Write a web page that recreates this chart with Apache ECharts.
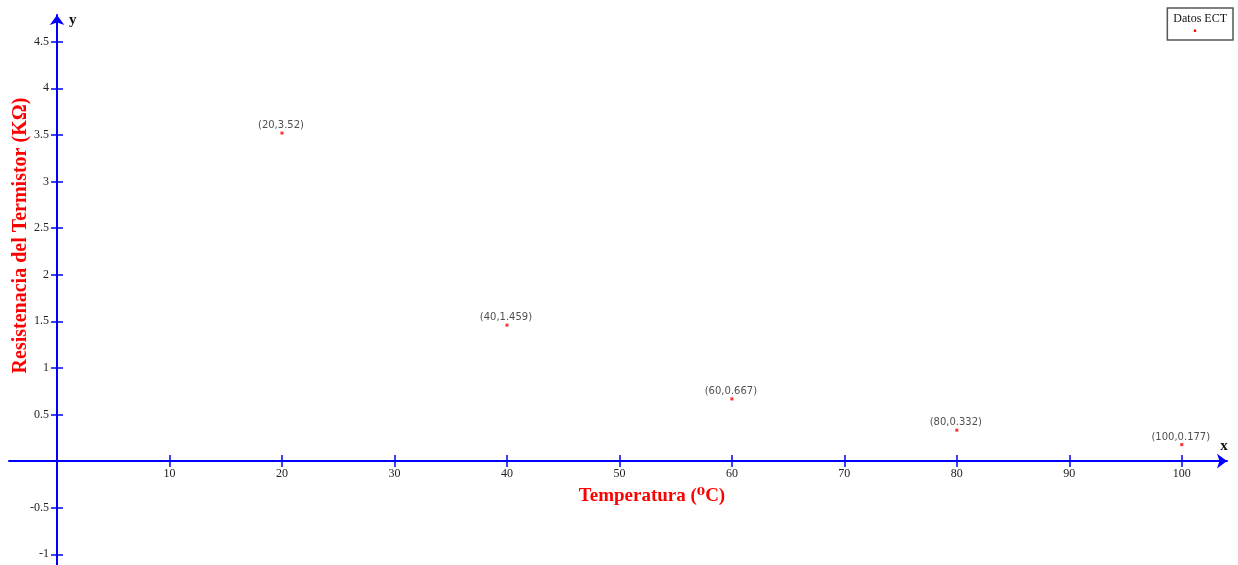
<!DOCTYPE html>
<html>
<head>
<meta charset="utf-8">
<script src="https://cdn.jsdelivr.net/npm/echarts@6/dist/echarts.min.js"></script>
<style>
html,body{margin:0;padding:0;background:#fff;}
#chart{width:1238px;height:565px;}
</style>
</head>
<body>
<div id="chart"></div>
<script>
const seriesName = 'Datos ECT';
const temperatures = [20, 40, 60, 80, 100];
const resistances = [3.52, 1.459, 0.667, 0.332, 0.177];
const xTickValues = [10, 20, 30, 40, 50, 60, 70, 80, 90, 100];
const yTickValues = [-1, -0.5, 0.5, 1, 1.5, 2, 2.5, 3, 3.5, 4, 4.5];
const xTitle = 'Temperatura (\u2070C)';
const yTitle = 'Resistenacia del Termistor (K\u03A9)';

const points = temperatures.map((t, i) => [t, resistances[i]]);

const blue = '#0000ff';
const serif = '"Liberation Serif", "DejaVu Serif", serif';
const GRID = { left: 9, right: 11, top: 15, bottom: 0 };
const W = 1238, H = 565;

const axisLineStyle = { color: blue, width: 2 };
const tickStyle = { color: blue, width: 1.5 };

const chart = echarts.init(document.getElementById('chart'));

function buildOption(off) {
  return {
    animation: false,
    backgroundColor: '#fff',
    grid: Object.assign({ containLabel: false, outerBoundsMode: 'none' }, GRID),
    legend: {
      right: 5,
      top: 8,
      data: [seriesName],
      itemWidth: 0,
      itemHeight: 0,
      icon: 'rect',
      borderColor: '#555',
      borderWidth: 1.5,
      borderRadius: 0,
      padding: [4, 6, 4, 1],
      formatter: name => name + '\n{d|\u25A0}',
      textStyle: {
        fontFamily: serif,
        fontSize: 12,
        color: '#111',
        lineHeight: 14,
        rich: {
          d: { color: '#ff0000', fontSize: 5, lineHeight: 10, padding: [0, 0, 0, 20] }
        }
      }
    },
    xAxis: [
      {
        type: 'value',
        position: 'bottom',
        offset: off.xBottom,
        min: -4.27,
        max: 104.02,
        axisLine: { show: true, onZero: false, lineStyle: axisLineStyle, symbol: ['none', 'arrow'], symbolSize: [11, 10] },
        axisTick: { show: true, customValues: xTickValues, length: 6, lineStyle: tickStyle },
        axisLabel: { show: true, customValues: xTickValues, margin: 7, fontFamily: serif, fontSize: 12, color: '#222' },
        splitLine: { show: false },
        name: xTitle,
        nameLocation: 'middle',
        nameGap: 25,
        nameMoveOverlap: false,
        nameTextStyle: { fontFamily: serif, fontWeight: 'bold', fontSize: 19, color: '#ff0000', padding: [0, 0, 0, 68] }
      },
      {
        type: 'value',
        position: 'top',
        offset: off.xTop,
        min: -4.27,
        max: 104.02,
        axisLine: { show: false, onZero: false },
        axisTick: { show: true, customValues: xTickValues, length: 6, lineStyle: tickStyle },
        axisLabel: { show: false },
        splitLine: { show: false },
        name: 'x',
        nameLocation: 'end',
        nameGap: -3,
        nameTextStyle: { fontFamily: serif, fontWeight: 'bold', fontSize: 15, color: '#111', align: 'center', verticalAlign: 'bottom', padding: [0, 0, 7, 0] }
      }
    ],
    yAxis: [
      {
        type: 'value',
        position: 'left',
        offset: off.yLeft,
        min: -1.115,
        max: 4.787,
        axisLine: { show: true, onZero: false, lineStyle: axisLineStyle, symbol: ['none', 'arrow'], symbolSize: [11, 10] },
        axisTick: { show: true, customValues: yTickValues, length: 6, lineStyle: tickStyle },
        axisLabel: { show: true, customValues: yTickValues, margin: 8, fontFamily: serif, fontSize: 12, color: '#222' },
        splitLine: { show: false },
        name: yTitle,
        nameLocation: 'middle',
        nameGap: 26,
        nameMoveOverlap: false,
        nameTextStyle: { fontFamily: serif, fontWeight: 'bold', fontSize: 20, color: '#ff0000', padding: [0, 0, 0, 109] }
      },
      {
        type: 'value',
        position: 'right',
        offset: off.yRight,
        min: -1.115,
        max: 4.787,
        axisLine: { show: false, onZero: false },
        axisTick: { show: true, customValues: yTickValues, length: 6, lineStyle: tickStyle },
        axisLabel: { show: false },
        splitLine: { show: false },
        name: 'y',
        nameLocation: 'end',
        nameGap: -5,
        nameTextStyle: { fontFamily: serif, fontWeight: 'bold', fontSize: 15, color: '#111', align: 'left', verticalAlign: 'middle', padding: [0, 0, 0, 12] }
      }
    ],
    series: [
      {
        name: seriesName,
        type: 'scatter',
        xAxisIndex: 0,
        yAxisIndex: 0,
        data: points,
        symbol: 'rect',
        symbolSize: 3,
        itemStyle: { color: '#ff0000' },
        label: {
          show: true,
          position: 'top',
          distance: 1,
          offset: [-1, 0],
          fontFamily: '"DejaVu Sans", sans-serif',
          fontSize: 10,
          color: '#222',
          formatter: p => '(' + p.value[0] + ',' + p.value[1] + ')'
        }
      }
    ]
  };
}

// First pass: lay out the grid, then ask the library where the origin is.
chart.setOption(buildOption({ xBottom: 0, xTop: 0, yLeft: 0, yRight: 0 }));
const origin = chart.convertToPixel({ gridIndex: 0 }, [0, 0]);
const gridLeft = GRID.left, gridRight = W - GRID.right, gridTop = GRID.top, gridBottom = H - GRID.bottom;
chart.setOption(buildOption({
  xBottom: -(gridBottom - origin[1]),
  xTop: -(origin[1] - gridTop),
  yLeft: -(origin[0] - gridLeft),
  yRight: -(gridRight - origin[0])
}));
</script>
</body>
</html>
